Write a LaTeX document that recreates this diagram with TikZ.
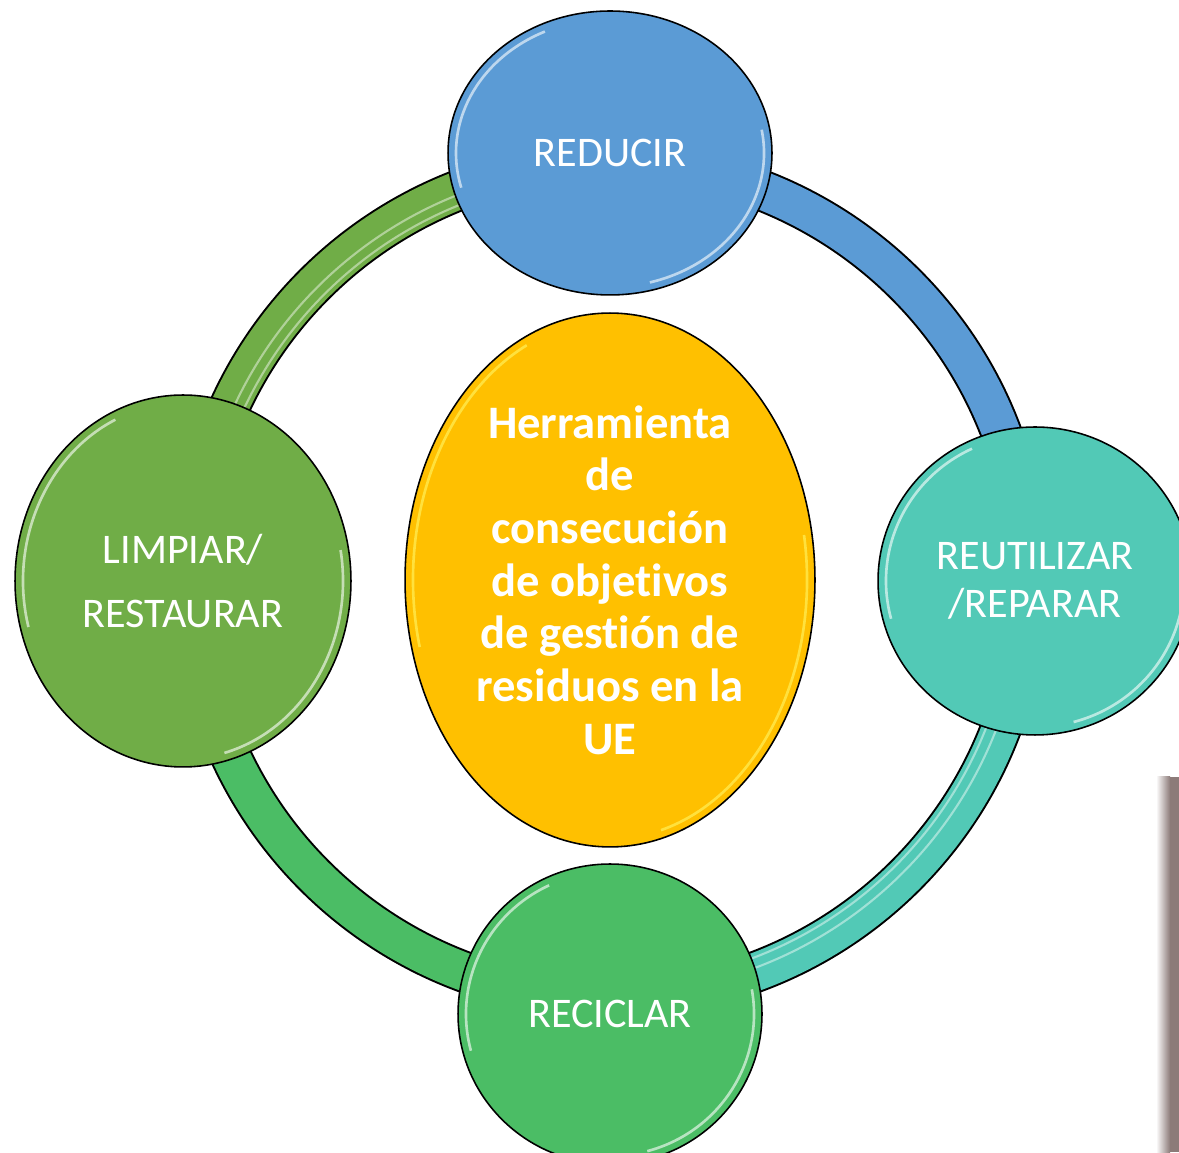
\documentclass[tikz,border=0pt]{standalone}
\usepackage{fontspec}
\setmainfont{Carlito}[Ligatures={NoCommon,NoRequired,NoContextual}]
\usepackage{xcolor}
\usepackage{tikz}
\usetikzlibrary{shapes.geometric}

\definecolor{blueC}{HTML}{5B9BD5}
\definecolor{tealC}{HTML}{52C9B6}
\definecolor{greenC}{HTML}{4BBD65}
\definecolor{oliveC}{HTML}{70AD47}
\definecolor{yellowC}{HTML}{FFC000}
\definecolor{barC}{HTML}{8C7B79}

\begin{document}
\begin{tikzpicture}[x=0.02cm, y=0.02cm,
    ball/.style={ellipse, draw=black, line width=0.9pt, inner sep=0pt, text=white,
        align=center, font=\fontsize{24}{27}\selectfont},
    band/.style={line width=0.84cm, black},
    fillband/.style={line width=0.76cm},
    shine/.style={opacity=0.6, line width=1.5pt}]
    \useasboundingbox (0,0) rectangle (1179,1152);

    % ring behind the balls
    \coordinate (hub) at (610,572);
    \foreach \s/\e/\c in {90/0/blueC, 0/-90/tealC, -90/-180/greenC, 180/90/oliveC}
        \draw[band] (hub) ++(\s:418) arc[start angle=\s, end angle=\e, radius=418];
    \foreach \s/\e/\c in {90/0/blueC, 0/-90/tealC, -90/-180/greenC, 180/90/oliveC}
        \draw[fillband, \c] (hub) ++(\s:418) arc[start angle=\s, end angle=\e, radius=418];

    % glossy stripes on two of the arcs
    \foreach \s/\e/\r in {180/90/404, 180/90/414, 0/-90/404, 0/-90/414}
        \draw[white, opacity=0.45, line width=1.2pt] (hub) ++(\s:\r) arc[start angle=\s, end angle=\e, radius=\r];

    % the five balls
    \node[ball, fill=blueC, minimum width=6.48cm, minimum height=5.68cm] (reducir) at (610,999) {REDUCIR};
    \node[ball, fill=tealC, minimum width=6.28cm, minimum height=6.16cm] (reutilizar) at (1035,571) {REUTILIZAR\\/REPARAR};
    \node[ball, fill=greenC, minimum width=6.08cm, minimum height=6.0cm] (reciclar) at (610,138) {RECICLAR};
    \node[ball, fill=oliveC, minimum width=6.72cm, minimum height=7.44cm] (limpiar) at (183,571) {LIMPIAR/\\[9pt]RESTAURAR};
    \node[ball, fill=yellowC, minimum width=8.2cm, minimum height=10.68cm,
        font=\bfseries\fontsize{26.5}{30}\selectfont] (tool) at (610,572)
        {Herramienta\\de\\consecución\\de objetivos\\de gestión de\\residuos en la\\UE};

    % rim highlights
    \foreach \n/\rx/\ry/\hc in {reducir/162/142/white, reutilizar/157/154/white, limpiar/168/186/white,
        reciclar/152/150/white, tool/205/267/yellow!60} {
        \pgfmathsetmacro\ax{\rx-8}
        \pgfmathsetmacro\ay{\ry-8}
        \pgfmathsetmacro\pxa{\ax*cos(115)}
        \pgfmathsetmacro\pya{\ay*sin(115)}
        \pgfmathsetmacro\pxb{\ax*cos(285)}
        \pgfmathsetmacro\pyb{\ay*sin(285)}
        \draw[shine, \hc] (\n.center) ++(\pxa,\pya) arc[start angle=115, end angle=195, x radius=\ax, y radius=\ay];
        \draw[shine, \hc] (\n.center) ++(\pxb,\pyb) arc[start angle=285, end angle=370, x radius=\ax, y radius=\ay];
    }

    % grey strip at the right edge
    \shade[left color=white, right color=barC] (1156,0) rectangle (1170,375);
    \fill[barC] (1170,0) rectangle (1179,375);
\end{tikzpicture}
\end{document}
